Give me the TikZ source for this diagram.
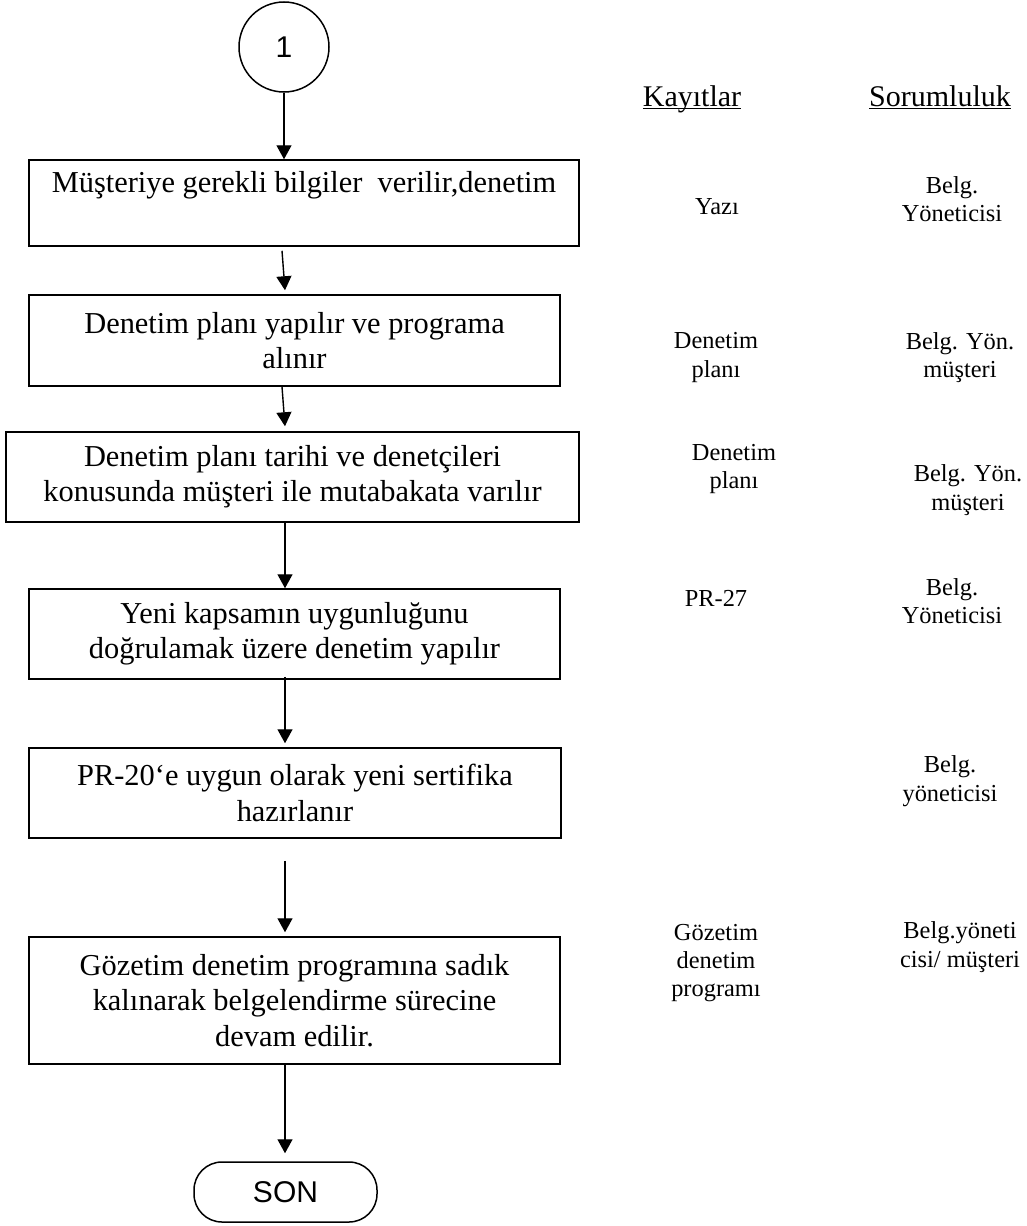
\documentclass[tikz,border=0pt]{standalone}
\usepackage{fontspec}
\setmainfont{Liberation Serif}
\newfontfamily\arialf{Liberation Sans}
\usetikzlibrary{arrows.meta,calc}
\newcommand\boxfont{\fontsize{15.2}{17.6}\selectfont}
\newcommand\recfont{\fontsize{12.2}{14.2}\selectfont}
\newcommand\hdrfont{\fontsize{15}{17}\selectfont}
\tikzset{
  box/.style={draw, line width=0.75pt, align=center, inner sep=0pt, font=\boxfont},
  arr/.style={-{Triangle[length=7pt,width=7.5pt]}, line width=0.7pt},
  rec/.style={align=center, inner sep=0pt, font=\recfont},
  hdr/.style={inner sep=0pt, anchor=base, font=\hdrfont},
  term/.style={draw, line width=0.75pt, inner sep=0pt, font=\arialf\fontsize{15}{17}\selectfont}
}
\begin{document}
\begin{tikzpicture}[x=0.5pt,y=-0.5pt]
\useasboundingbox (0,0) rectangle (1027,1226);
% flow column
\node[term, circle, minimum size=45pt] (c1) at (284,47) {1};
\node[box, minimum width=275pt, minimum height=43pt] (b1) at (304,203)
  {\strut Müşteriye gerekli bilgiler\ \ verilir,denetim\\ \strut};
\node[box, minimum width=265.5pt, minimum height=45.5pt] (b2) at (294.5,340.5)
  {Denetim planı yapılır ve programa\\alınır};
\node[box, minimum width=286.5pt, minimum height=45pt] (b3) at (292.5,477)
  {Denetim planı tarihi ve denetçileri\\konusunda müşteri ile mutabakata varılır};
\node[box, minimum width=265.5pt, minimum height=45pt] (b4) at (294.5,634)
  {Yeni kapsamın uygunluğunu\\doğrulamak üzere denetim yapılır};
\node[box, minimum width=266pt, minimum height=45pt] (b5) at (295,793)
  {PR-20‘e uygun olarak yeni sertifika\\hazırlanır};
\node[box, minimum width=265.5pt, minimum height=63.5pt] (b6) at (294.5,1000.5)
  {Gözetim denetim programına sadık\\kalınarak belgelendirme sürecine\\devam edilir.};
\node[term, rounded corners=14pt, minimum width=91.5pt, minimum height=30pt] (son) at (285.5,1192) {SON};
\coordinate (ax) at (285,0);
% connectors
\draw[arr] (c1.south) -- (c1.south |- b1.north);
\draw[arr] ($(ax |- b1.south)+(-3,4)$) -- ($(ax |- b2.north)+(0,-4)$);
\draw[arr] ($(ax |- b2.south)+(-3,0)$) -- ($(ax |- b3.north)+(0,-5)$);
\draw[arr] (ax |- b3.south) -- (ax |- b4.north);
\draw[arr] ($(ax |- b4.south)+(0,-3)$) -- ($(ax |- b5.north)+(0,-4)$);
\draw[arr] ($(ax |- b5.south)+(0,22)$) -- ($(ax |- b6.north)+(0,-4)$);
\draw[arr] (ax |- b6.south) -- ($(ax |- son.north)+(0,-8)$);
% records / responsibility
\node[hdr] (hk) at (692,106) {\underline{\smash{Kayıtlar}}};
\node[hdr] (hs) at (940,106) {\underline{\smash{Sorumluluk}}};
\node[rec] (r1) at (717,207) {Yazı};
\node[rec] (s1) at (952,199) {Belg.\\Yöneticisi};
\node[rec] (r2) at (716,357.5) {Denetim\\planı};
\node[rec] (s2) at (960,357.5) {Belg. Yön.\\müşteri};
\node[rec] (r3) at (734,469) {Denetim\\planı};
\node[rec] (s3) at (968,490) {Belg. Yön.\\müşteri};
\node[rec] (r4) at (716,598) {PR-27};
\node[rec] (s4) at (952,601) {Belg.\\Yöneticisi};
\node[rec] (s5) at (950,781) {Belg.\\yöneticisi};
\node[rec] (r6) at (716,963) {Gözetim\\denetim\\programı};
\node[rec] (s6) at (960,947) {Belg.yöneti\\cisi/ müşteri};
\end{tikzpicture}
\end{document}
